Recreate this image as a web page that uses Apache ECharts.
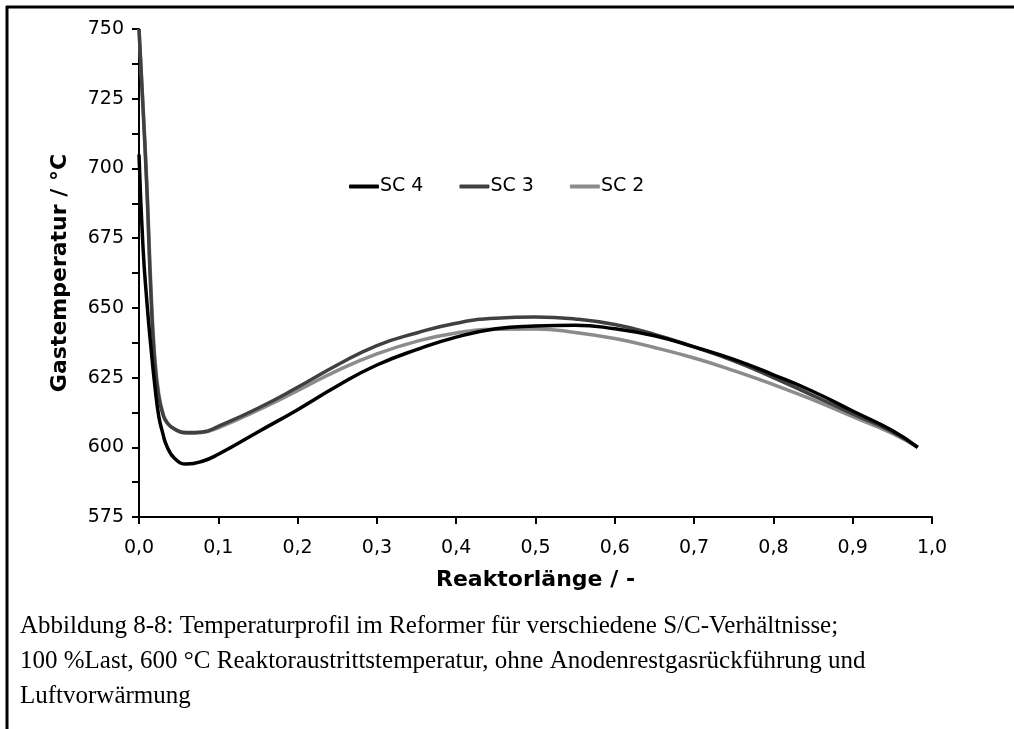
<!DOCTYPE html>
<html>
<head>
<meta charset="utf-8">
<script src="https://cdn.jsdelivr.net/npm/echarts@6/dist/echarts.min.js"></script>
<style>
  html, body { margin: 0; padding: 0; background: #fff; }
  #chart { width: 1014px; height: 729px; }
</style>
</head>
<body>
<div id="chart"></div>
<script>
// Reaktorlänge (relative position along the reformer)
const positions = [0, 0.005, 0.01, 0.015, 0.02, 0.025, 0.03, 0.035, 0.045, 0.06, 0.08, 0.1,
  0.15, 0.2, 0.25, 0.3, 0.35, 0.4, 0.45, 0.5, 0.55, 0.6, 0.65, 0.7, 0.75, 0.8, 0.85, 0.9, 0.95, 0.982];

// Gas temperature in °C for each S/C ratio
const sc4 = [705, 672, 652, 636, 622, 611, 605, 600.5, 596, 594, 595, 597.5,
  605.5, 613.5, 622, 629.5, 635, 639.5, 642.5, 643.5, 643.8, 642.5, 640, 636, 631.5, 626, 620, 613, 606, 600];
const sc3 = [750, 722, 692, 655, 630, 618, 612, 609, 606.5, 605.3, 605.5, 607.5,
  614, 621.5, 629.5, 636.5, 641, 644.5, 646.3, 646.7, 646, 644, 640.5, 636, 631, 625, 618.5, 612, 605.5, 600];
const sc2 = [750, 723, 694, 658, 632, 619, 612.5, 609, 606.5, 605, 605.3, 607,
  613.3, 620.3, 627.5, 633.5, 638, 641, 642.3, 642.4, 641.2, 639, 635.8, 632, 627.5, 622.5, 617, 611, 605, 600];

const seriesNames = ['SC 4', 'SC 3', 'SC 2'];
const seriesColors = ['#000000', '#404040', '#8c8c8c'];
const seriesValues = [sc4, sc3, sc2];

const captionLines = [
  'Abbildung 8-8: Temperaturprofil im Reformer für verschiedene S/C-Verhältnisse;',
  '100 %Last, 600 °C Reaktoraustrittstemperatur, ohne Anodenrestgasrückführung und',
  'Luftvorwärmung'
];

const pair = (xs, ys) => xs.map((x, i) => [x, ys[i]]);

const chart = echarts.init(document.getElementById('chart'), null, { renderer: 'canvas' });

const axisFont = 'DejaVu Sans, Verdana, sans-serif';

chart.setOption({
  animation: false,
  backgroundColor: '#ffffff',
  grid: { left: 139, right: 82, top: 29, bottom: 212, containLabel: false },
  legend: {
    top: 172,
    left: 344,
    icon: 'roundRect',
    itemWidth: 30,
    itemHeight: 4,
    itemGap: 36,
    textStyle: { fontFamily: axisFont, fontSize: 19, color: '#000', padding: [0, 0, 0, -4] },
    data: seriesNames
  },
  xAxis: {
    type: 'value',
    min: 0,
    max: 1,
    interval: 0.1,
    name: 'Reaktorlänge / -',
    nameLocation: 'middle',
    nameGap: 52,
    nameTextStyle: { fontFamily: axisFont, fontSize: 22, fontWeight: 'bold', color: '#000' },
    axisLine: { show: true, onZero: false, lineStyle: { color: '#000', width: 2 } },
    axisTick: { show: true, inside: false, length: 7, lineStyle: { color: '#000', width: 2 } },
    axisLabel: {
      margin: 22,
      fontFamily: axisFont, fontSize: 19, color: '#000',
      formatter: v => v.toFixed(1).replace('.', ',')
    },
    splitLine: { show: false }
  },
  yAxis: {
    type: 'value',
    min: 575,
    max: 750,
    interval: 12.5,
    name: 'Gastemperatur / °C',
    nameLocation: 'middle',
    nameGap: 68,
    nameRotate: 90,
    nameTextStyle: { fontFamily: axisFont, fontSize: 22, fontWeight: 'bold', color: '#000' },
    axisLine: { show: true, onZero: false, lineStyle: { color: '#000', width: 2 } },
    axisTick: { show: true, inside: false, length: 7, lineStyle: { color: '#000', width: 2 } },
    axisLabel: {
      margin: 15,
      fontFamily: axisFont, fontSize: 19, color: '#000',
      formatter: v => (v % 25 === 0 ? String(v) : '')
    },
    splitLine: { show: false }
  },
  series: seriesNames.map((name, i) => ({
    name,
    type: 'line',
    data: pair(positions, seriesValues[i]),
    smooth: 0.5,
    symbol: 'none',
    z: 3 - i,
    lineStyle: { color: seriesColors[i], width: 3.5 },
    itemStyle: { color: seriesColors[i] }
  })),
  graphic: [
    // page frame
    { type: 'line', shape: { x1: 6, y1: 7, x2: 1014, y2: 7 }, style: { stroke: '#000', lineWidth: 3 } },
    { type: 'line', shape: { x1: 7, y1: 6, x2: 7, y2: 729 }, style: { stroke: '#000', lineWidth: 3 } },
    // caption
    ...captionLines.map((t, i) => ({
      type: 'text',
      left: 20,
      top: 614 + i * 35,
      style: { text: t, font: '25px "Liberation Serif", "DejaVu Serif", serif', fill: '#000' }
    }))
  ]
});
</script>
</body>
</html>
